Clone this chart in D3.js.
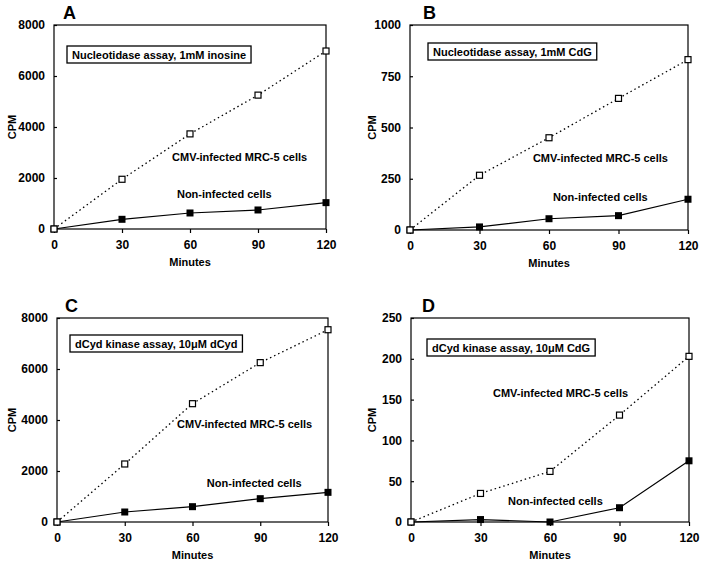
<!DOCTYPE html>
<html><head><meta charset="utf-8">
<script src="https://cdn.jsdelivr.net/npm/d3@7"></script>
<style>
body{margin:0;background:#fff;}
svg{display:block;font-family:Arial,"Liberation Sans",sans-serif;font-weight:bold;}
</style></head>
<body>
<svg id="c" width="703" height="565"></svg>
<script>
const minutes = [0, 30, 60, 90, 120];
const xTicks = [0, 30, 60, 90, 120];

const panelLetters = ["A", "B", "C", "D"];
const panelTitles = [
  "Nucleotidase assay, 1mM inosine",
  "Nucleotidase assay, 1mM CdG",
  "dCyd kinase assay, 10\u03bcM dCyd",
  "dCyd kinase assay, 10\u03bcM CdG"
];
const seriesNames = ["CMV-infected MRC-5 cells", "Non-infected cells"];

const infectedA = [0, 1950, 3730, 5250, 6980];
const nonInfectedA = [0, 380, 628, 746, 1034];
const infectedB = [0, 267, 450, 642, 831];
const nonInfectedB = [0, 15, 55, 70, 150];
const infectedC = [0, 2275, 4640, 6250, 7540];
const nonInfectedC = [0, 392, 601, 915, 1163];
const infectedD = [0, 35, 62, 131, 203];
const nonInfectedD = [0, 3, 0, 17.5, 75];

const yTicksA = [0, 2000, 4000, 6000, 8000];
const yTicksB = [0, 250, 500, 750, 1000];
const yTicksC = [0, 2000, 4000, 6000, 8000];
const yTicksD = [0, 50, 100, 150, 200, 250];

// layout (pixels)
const layout = [
  {l:54, r:326, t:25, b:229, boxX:13, boxY:21, cpmX:42, cmv:[0.434,0.647], non:[0.452,0.828], letX:9},
  {l:410, r:688, t:25, b:230, boxX:18, boxY:18, cpmX:38, cmv:[0.442,0.649], non:[0.514,0.839], letX:13},
  {l:57, r:328, t:318, b:522, boxX:13, boxY:17, cpmX:45, cmv:[0.443,0.52], non:[0.553,0.809], letX:8},
  {l:411, r:689, t:318, b:522, boxX:16, boxY:21, cpmX:39, cmv:[0.295,0.368], non:[0.349,0.897], letX:11}
];

const panelData = [
  {inf: infectedA, non: nonInfectedA, yt: yTicksA},
  {inf: infectedB, non: nonInfectedB, yt: yTicksB},
  {inf: infectedC, non: nonInfectedC, yt: yTicksC},
  {inf: infectedD, non: nonInfectedD, yt: yTicksD}
];

const svg = d3.select("#c");
const FF = "Arial, 'Liberation Sans', sans-serif";

panelData.forEach((pd, i) => {
  const L = layout[i];
  const x = d3.scaleLinear().domain([0, 120]).range([L.l, L.r]);
  const yMax = pd.yt[pd.yt.length - 1];
  const y = d3.scaleLinear().domain([0, yMax]).range([L.b, L.t]);
  const g = svg.append("g");

  // frame
  g.append("rect").attr("x", L.l).attr("y", L.t)
    .attr("width", L.r - L.l).attr("height", L.b - L.t)
    .attr("fill", "none").attr("stroke", "#000").attr("stroke-width", 1.2);

  // x axis
  const xa = g.append("g").attr("transform", `translate(0,${L.b})`)
    .call(d3.axisBottom(x).tickValues(xTicks).tickSize(4).tickSizeOuter(0).tickPadding(7).tickFormat(d3.format("d")));
  xa.select(".domain").remove();
  xa.selectAll("text").attr("font-size", 12).attr("font-family", FF).attr("font-weight", "bold").attr("fill", "#000");
  xa.selectAll("line").attr("stroke-width", 1.2);

  // y axis (inner ticks)
  const ya = g.append("g").attr("transform", `translate(${L.l},0)`)
    .call(d3.axisRight(y).tickValues(pd.yt).tickSize(3).tickSizeOuter(0).tickFormat(d3.format("d")));
  ya.select(".domain").remove();
  ya.selectAll("line").attr("stroke-width", 1.2);
  ya.selectAll("text").attr("x", -9).attr("text-anchor", "end")
    .attr("font-size", 12).attr("font-family", FF).attr("font-weight", "bold").attr("fill", "#000");

  // axis titles
  g.append("text").attr("x", (L.l + L.r) / 2).attr("y", L.b + 37)
    .attr("text-anchor", "middle").attr("font-size", 11).text("Minutes");
  g.append("text").attr("transform", `translate(${L.l - L.cpmX},${(L.t + L.b) / 2}) rotate(-90)`)
    .attr("text-anchor", "middle").attr("dy", "0.35em").attr("font-size", 11).text("CPM");

  // panel letter
  g.append("text").attr("x", L.l + L.letX).attr("y", L.t - 6)
    .attr("font-size", 18).attr("font-family", FF).text(panelLetters[i]);

  // lines
  const line = d3.line().x((d, j) => x(minutes[j])).y(d => y(d));
  g.append("path").datum(pd.inf).attr("d", line).attr("fill", "none")
    .attr("stroke", "#000").attr("stroke-width", 1.3).attr("stroke-dasharray", "1.5,3");
  g.append("path").datum(pd.non).attr("d", line).attr("fill", "none")
    .attr("stroke", "#000").attr("stroke-width", 1.2);

  const s = 7;
  g.selectAll(".ni").data(pd.non).enter().append("rect")
    .attr("x", (d, j) => x(minutes[j]) - s / 2).attr("y", d => y(d) - s / 2)
    .attr("width", s).attr("height", s).attr("fill", "#000");
  g.selectAll(".inf").data(pd.inf).enter().append("rect")
    .attr("x", (d, j) => x(minutes[j]) - s / 2 + 0.5).attr("y", d => y(d) - s / 2 + 0.5)
    .attr("width", s - 1).attr("height", s - 1).attr("fill", "#fff").attr("stroke", "#000").attr("stroke-width", 1.2);

  // title box
  const box = g.append("rect").attr("x", L.l + L.boxX).attr("y", L.t + L.boxY)
    .attr("height", 17).attr("fill", "#fff").attr("stroke", "#000").attr("stroke-width", 1.3);
  const t = g.append("text").attr("x", L.l + L.boxX + 5).attr("y", L.t + L.boxY + 12.5)
    .attr("font-size", 11).text(panelTitles[i]);
  const bb = t.node().getBBox();
  box.attr("width", bb.width + 10);

  // series labels
  const W = L.r - L.l, H = L.b - L.t;
  g.append("text").attr("x", L.l + L.cmv[0] * W).attr("y", L.t + L.cmv[1] * H)
    .attr("dy", "0.35em").attr("font-size", 11).text(seriesNames[0]);
  g.append("text").attr("x", L.l + L.non[0] * W).attr("y", L.t + L.non[1] * H)
    .attr("dy", "0.35em").attr("font-size", 11).text(seriesNames[1]);
});
</script>
</body></html>
